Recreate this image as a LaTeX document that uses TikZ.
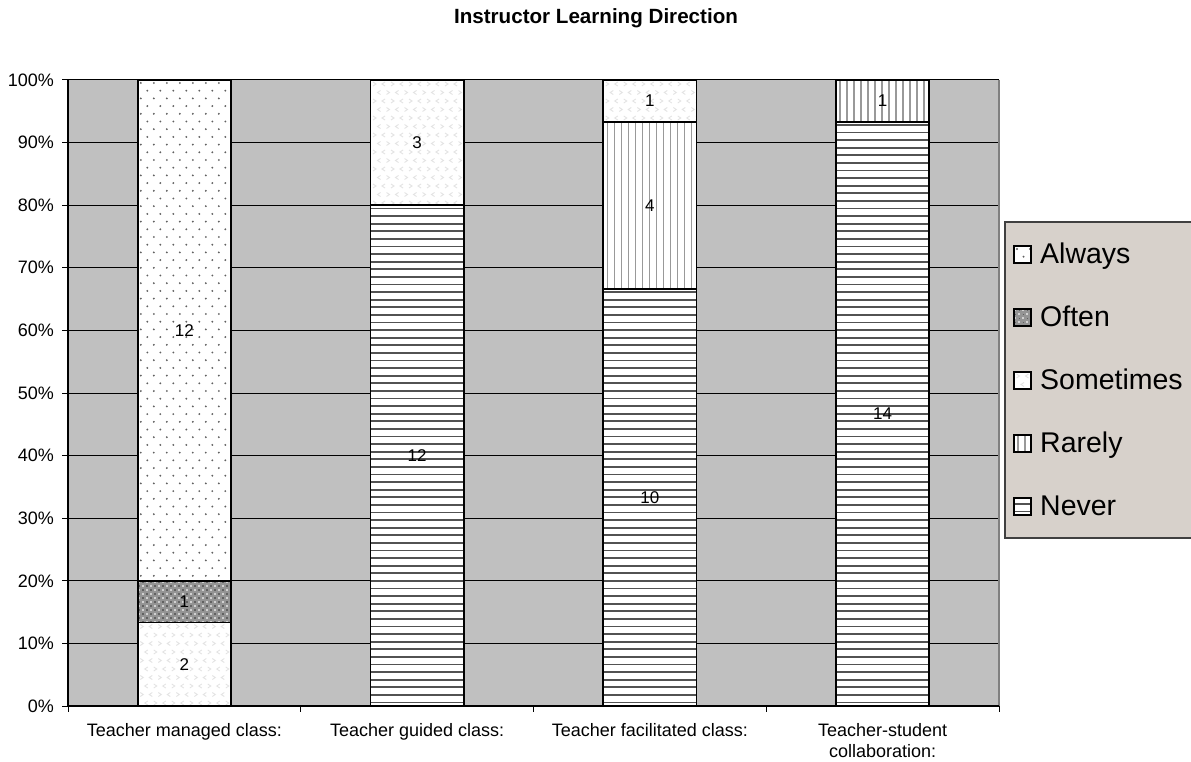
\documentclass[tikz,border=0pt]{standalone}
\usepackage{fontspec}
\setmainfont{Liberation Sans}
\definecolor{plotbg}{RGB}{192,192,192}
\definecolor{legbg}{RGB}{215,209,203}
\tikzset{
  lbl/.style={inner sep=0pt, font=\fontsize{18}{21}\selectfont},
  dlbl/.style={inner sep=0pt, font=\fontsize{17}{20}\selectfont},
  leglbl/.style={inner sep=0pt, anchor=base west, font=\fontsize{28.5}{32}\selectfont},
  segline/.style={draw=black, line width=1.8pt},
  grid line/.style={draw=black, line width=1pt}
}
% pattern macros: #1=x left, #2=y top, #3=x right, #4=y bottom (y grows downward)
\newcommand\patAlways[4]{%
  \fill[white] (#1,#2) rectangle (#3,#4);
  \begin{scope}
    \clip (#1,#2) rectangle (#3,#4);
    \pgfmathtruncatemacro\nr{(#4-#2)/7.7+1}
    \pgfmathtruncatemacro\nc{(#3-#1)/13+1}
    \foreach \j in {0,...,\nr}{
      \foreach \k in {0,...,\nc}{
        \fill[black!62] ({#1+3+\k*13+mod(\j,2)*6.5},{#2+3+\j*7.7}) circle (1.05);
      }}
  \end{scope}}
\newcommand\patSometimes[4]{%
  \fill[white] (#1,#2) rectangle (#3,#4);
  \begin{scope}
    \clip (#1,#2) rectangle (#3,#4);
    \pgfmathtruncatemacro\nr{(#4-#2)/8.5+1}
    \pgfmathtruncatemacro\nc{(#3-#1)/9+1}
    \foreach \j in {0,...,\nr}{
      \foreach \k in {0,...,\nc}{
        \pgfmathsetmacro\cx{#1+4+\k*9+mod(\j,2)*4.5}
        \pgfmathsetmacro\cy{#2+4+\j*8.5}
        \pgfmathtruncatemacro\pp{mod(\k+\j,2)}
        \ifnum\pp=0
          \draw[black!11, line width=0.9pt] ({\cx-1.5},{\cy-2}) -- ({\cx+1.5},\cy) -- ({\cx-1.5},{\cy+2});
        \else
          \draw[black!11, line width=0.9pt] ({\cx+1.5},{\cy-2}) -- ({\cx-1.5},\cy) -- ({\cx+1.5},{\cy+2});
        \fi
      }}
  \end{scope}}
\newcommand\patOften[4]{%
  \fill[black!42] (#1,#2) rectangle (#3,#4);
  \begin{scope}
    \clip (#1,#2) rectangle (#3,#4);
    \pgfmathtruncatemacro\nr{(#4-#2)/4+1}
    \pgfmathtruncatemacro\nc{(#3-#1)/4+1}
    \foreach \j in {0,...,\nr}{
      \foreach \k in {0,...,\nc}{
        \pgfmathtruncatemacro\pp{mod(\k+\j,2)}
        \ifnum\pp=0
          \fill[black!18] ({#1+\k*4},{#2+\j*4}) rectangle ++(1.8,1.8);
        \else
          \fill[black!62] ({#1+\k*4+0.6},{#2+\j*4+0.6}) rectangle ++(1.4,1.4);
        \fi
      }}
  \end{scope}}
\newcommand\patRarely[4]{%
  \fill[white] (#1,#2) rectangle (#3,#4);
  \begin{scope}
    \clip (#1,#2) rectangle (#3,#4);
    \pgfmathtruncatemacro\nc{(#3-#1)/7+1}
    \foreach \k in {0,...,\nc}{
      \draw[black!40, line width=1.6pt] ({#1+4+\k*7},#2) -- ({#1+4+\k*7},#4);
    }
  \end{scope}}
\newcommand\patNever[4]{%
  \fill[white] (#1,#2) rectangle (#3,#4);
  \begin{scope}
    \clip (#1,#2) rectangle (#3,#4);
    \pgfmathtruncatemacro\nr{(#4-#2)/7.6+1}
    \foreach \j in {0,...,\nr}{
      \draw[black!68, line width=1.8pt] (#1,{#4-3.5-\j*7.6}) -- (#3,{#4-3.5-\j*7.6});
    }
  \end{scope}}
\begin{document}
\begin{tikzpicture}[x=1pt,y=-1pt]
\useasboundingbox (0,0) rectangle (1191,762);
\fill[white] (0,0) rectangle (1191,762);
% title
\node[inner sep=0pt, anchor=base, font=\bfseries\fontsize{20.6}{24}\selectfont] (title) at (596,24) {Instructor Learning Direction};
% plot area
\fill[plotbg] (68,80) rectangle (999,706);
\foreach \p in {1,...,10} {
  \draw[grid line] (68,{706-62.6*\p}) -- (999,{706-62.6*\p});
}
\draw[black!50, line width=1.4pt] (999,80) -- (999,706);
% y axis & ticks & labels
\draw[black, line width=1.2pt] (68,80) -- (68,706) -- (999,706);
\foreach \p in {0,...,10} {
  \draw[black, line width=1pt] (62,{706-62.6*\p}) -- (68,{706-62.6*\p});
  \node[lbl, anchor=east] (ytick\p) at (54,{706-62.6*\p}) {\ifnum\p=0 0\else\p0\fi\%};
}
\foreach \i in {0,...,4} {
  \draw[black, line width=1pt] ({68+232.75*\i},706) -- ({68+232.75*\i},712);
}
% bar 1: Teacher managed class
\patSometimes{137.8}{622.5}{231}{706}
\patOften{137.8}{580.8}{231}{622.5}
\patAlways{137.8}{80}{231}{580.8}
\draw[segline] (137.8,622.5) rectangle (231,706);
\draw[segline] (137.8,580.8) rectangle (231,622.5);
\draw[segline] (137.8,80) rectangle (231,580.8);
% bar 2: Teacher guided class
\patNever{370.5}{205.2}{463.7}{706}
\patSometimes{370.5}{80}{463.7}{205.2}
\draw[segline] (370.5,205.2) rectangle (463.7,706);
\draw[segline] (370.5,80) rectangle (463.7,205.2);
% bar 3: Teacher facilitated class
\patNever{603.3}{288.7}{696.5}{706}
\patRarely{603.3}{121.7}{696.5}{288.7}
\patSometimes{603.3}{80}{696.5}{121.7}
\draw[segline] (603.3,288.7) rectangle (696.5,706);
\draw[segline] (603.3,121.7) rectangle (696.5,288.7);
\draw[segline] (603.3,80) rectangle (696.5,121.7);
% bar 4: Teacher-student collaboration
\patNever{836}{121.7}{929.2}{706}
\patRarely{836}{80}{929.2}{121.7}
\draw[segline] (836,121.7) rectangle (929.2,706);
\draw[segline] (836,80) rectangle (929.2,121.7);
% data labels
\node[dlbl] (b1s) at (184.4,664.3) {2};
\node[dlbl] (b1o) at (184.4,601.7) {1};
\node[dlbl] (b1a) at (184.4,330.4) {12};
\node[dlbl] (b2n) at (417.1,455.6) {12};
\node[dlbl] (b2s) at (417.1,142.6) {3};
\node[dlbl] (b3n) at (649.9,497.3) {10};
\node[dlbl] (b3r) at (649.9,205.2) {4};
\node[dlbl] (b3s) at (649.9,100.9) {1};
\node[dlbl] (b4n) at (882.6,413.9) {14};
\node[dlbl] (b4r) at (882.6,100.9) {1};
% category labels
\node[lbl, anchor=base] (c1) at (184.4,736) {Teacher managed class:};
\node[lbl, anchor=base] (c2) at (417.1,736) {Teacher guided class:};
\node[lbl, anchor=base] (c3) at (649.9,736) {Teacher facilitated class:};
\node[lbl, anchor=base] (c4a) at (882.6,736) {Teacher-student};
\node[lbl, anchor=base] (c4b) at (882.6,757) {collaboration:};
% legend
\draw[black!75, line width=1.3pt, fill=legbg] (1005,222) rectangle (1195,538);
\patAlways{1014}{246}{1031}{263}
\draw[black, line width=1.5pt] (1014,246) rectangle (1031,263);
\node[leglbl] (lg1) at (1040,263) {Always};
\patOften{1014}{309}{1031}{326}
\draw[black, line width=1.5pt] (1014,309) rectangle (1031,326);
\node[leglbl] (lg2) at (1040,326) {Often};
\patSometimes{1014}{372}{1031}{389}
\draw[black, line width=1.5pt] (1014,372) rectangle (1031,389);
\node[leglbl] (lg3) at (1040,389) {Sometimes};
\patRarely{1014}{435}{1031}{452}
\draw[black, line width=1.5pt] (1014,435) rectangle (1031,452);
\node[leglbl] (lg4) at (1040,452) {Rarely};
\patNever{1014}{498}{1031}{515}
\draw[black, line width=1.5pt] (1014,498) rectangle (1031,515);
\node[leglbl] (lg5) at (1040,515) {Never};
\end{tikzpicture}
\end{document}
